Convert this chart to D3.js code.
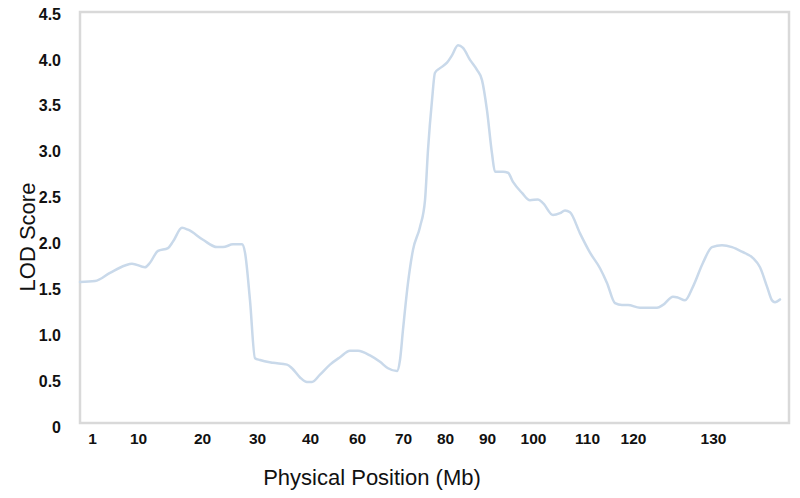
<!DOCTYPE html>
<html>
<head>
<meta charset="utf-8">
<script src="https://cdn.jsdelivr.net/npm/d3@7"></script>
<style>
  html, body { margin: 0; padding: 0; background: #ffffff; }
  svg { display: block; }
</style>
</head>
<body>
<svg id="chart" width="800" height="498"></svg>
<script>
// Position along the chromosome axis (plot units, as drawn) and LOD score
const positions = [0, 15, 30, 45, 52, 65, 70, 78, 88, 93, 102, 108, 123, 137, 143, 153, 162, 165, 170, 175, 180, 193, 207, 212, 220, 227, 232, 240, 250, 260, 270, 278, 290, 300, 308, 317, 320, 323, 328, 333, 340, 345, 348, 352, 355, 360, 367, 372, 378, 383, 390, 397, 402, 407, 412, 415, 423, 428, 433, 442, 450, 458, 463, 473, 480, 485, 490, 500, 510, 520, 527, 535, 542, 548, 560, 577, 583, 593, 598, 605, 613, 623, 632, 642, 652, 662, 673, 680, 687, 692, 695, 700];
const lodScores = [1.58, 1.59, 1.68, 1.76, 1.78, 1.74, 1.79, 1.92, 1.95, 2.02, 2.17, 2.15, 2.04, 1.96, 1.96, 1.99, 1.99, 1.90, 1.38, 0.75, 0.73, 0.70, 0.68, 0.64, 0.54, 0.49, 0.49, 0.57, 0.68, 0.76, 0.83, 0.83, 0.78, 0.71, 0.64, 0.61, 0.73, 1.06, 1.57, 1.93, 2.18, 2.47, 3.02, 3.56, 3.86, 3.91, 3.97, 4.05, 4.16, 4.13, 4.00, 3.89, 3.78, 3.45, 2.98, 2.78, 2.78, 2.77, 2.67, 2.55, 2.47, 2.48, 2.44, 2.31, 2.33, 2.36, 2.34, 2.11, 1.90, 1.73, 1.57, 1.35, 1.33, 1.33, 1.30, 1.30, 1.33, 1.42, 1.41, 1.38, 1.53, 1.79, 1.96, 1.98, 1.96, 1.91, 1.84, 1.74, 1.53, 1.38, 1.36, 1.39];

// X tick positions (plot units) and their labels (Mb)
const xTickPositions = [12, 58, 122, 177, 230, 277, 323, 365, 407, 453, 507, 553, 633];
const xTickLabels = ["1", "10", "20", "30", "40", "60", "70", "80", "90", "100", "110", "120", "130"];
const yTickValues = [0, 0.5, 1.0, 1.5, 2.0, 2.5, 3.0, 3.5, 4.0, 4.5];
const yTickLabels = ["0", "0.5", "1.0", "1.5", "2.0", "2.5", "3.0", "3.5", "4.0", "4.5"];

const svg = d3.select("#chart");

const x = d3.scaleLinear().domain([0, 710]).range([80, 790]);
const y = d3.scaleLinear().domain([0, 4.5]).range([427, 14]);

// Frame
svg.append("rect")
  .attr("x", 80).attr("y", 12)
  .attr("width", 709).attr("height", 411)
  .attr("fill", "#ffffff")
  .attr("stroke", "#d9d9d9")
  .attr("stroke-width", 2.5);

// Y axis labels
const yAxis = d3.axisLeft(y)
  .tickValues(yTickValues)
  .tickSize(0)
  .tickPadding(0)
  .tickFormat((d, i) => yTickLabels[i]);
const gy = svg.append("g").attr("transform", "translate(61,0)").call(yAxis);
gy.select(".domain").remove();
gy.selectAll("text")
  .attr("font-family", "Liberation Sans, Arial, sans-serif")
  .attr("font-size", 16)
  .attr("font-weight", "bold")
  .attr("fill", "#111");

// X axis labels
const xAxis = d3.axisBottom(x)
  .tickValues(xTickPositions)
  .tickSize(0)
  .tickPadding(0)
  .tickFormat((d, i) => xTickLabels[i]);
const gx = svg.append("g").attr("transform", "translate(0,433)").call(xAxis);
gx.select(".domain").remove();
gx.selectAll("text")
  .attr("font-family", "Liberation Sans, Arial, sans-serif")
  .attr("font-size", 15.5)
  .attr("font-weight", "bold")
  .attr("fill", "#111");

// Line
const data = positions.map((p, i) => ({ p, v: lodScores[i] }));
const line = d3.line()
  .x(d => x(d.p))
  .y(d => y(d.v))
  .curve(d3.curveMonotoneX);
svg.append("path")
  .datum(data)
  .attr("d", line)
  .attr("fill", "none")
  .attr("stroke", "#c9d9ea")
  .attr("stroke-width", 2.5)
  .attr("stroke-linejoin", "round")
  .attr("stroke-linecap", "round");

// Axis titles
svg.append("text")
  .attr("x", 372).attr("y", 485)
  .attr("text-anchor", "middle")
  .attr("font-family", "Liberation Sans, Arial, sans-serif")
  .attr("font-size", 22)
  .attr("fill", "#111")
  .text("Physical Position (Mb)");

svg.append("text")
  .attr("transform", "translate(35,237) rotate(-90)")
  .attr("text-anchor", "middle")
  .attr("font-family", "Liberation Sans, Arial, sans-serif")
  .attr("font-size", 22)
  .attr("fill", "#111")
  .text("LOD Score");
</script>
</body>
</html>
